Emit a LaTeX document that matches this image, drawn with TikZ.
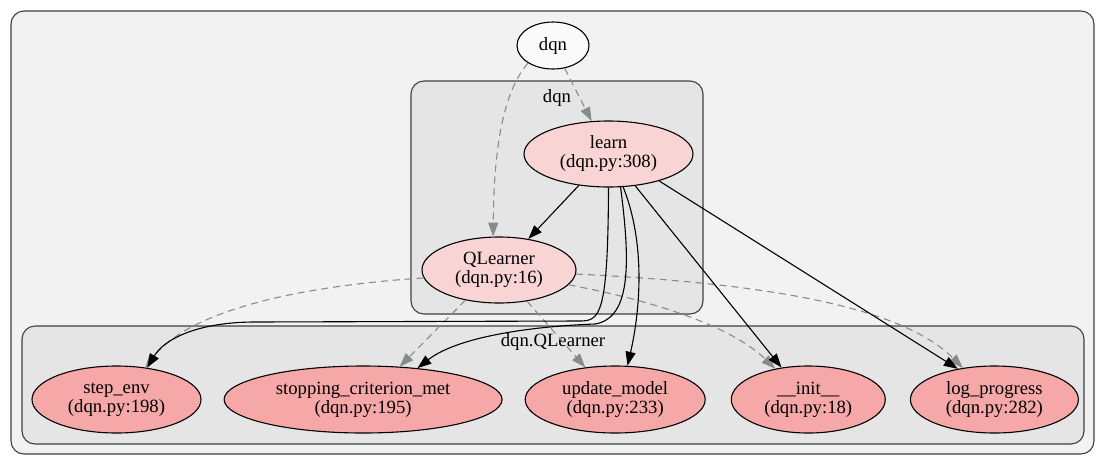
\documentclass[tikz,border=0pt]{standalone}
\usepackage{fontspec}
\setmainfont{Liberation Serif}
\usetikzlibrary{shapes.geometric, arrows.meta, positioning}
\definecolor{outerbg}{HTML}{F2F2F2}
\definecolor{clusterbg}{HTML}{E5E5E5}
\definecolor{lightpink}{HTML}{F8D4D4}
\definecolor{darkpink}{HTML}{F6A8A8}
\definecolor{edgegray}{HTML}{858C8C}
\tikzstyle{pkgbox} = [rectangle, rounded corners=13pt, draw=black!75, fill=outerbg]
\tikzstyle{clusterbox} = [rectangle, rounded corners=13pt, draw=black!75, fill=clusterbg]
\tikzstyle{module} = [ellipse, minimum width=72pt, minimum height=47pt, inner sep=0pt, draw=black, fill=black!2]
\tikzstyle{defn} = [ellipse, minimum height=66pt, inner sep=0pt, align=center, draw=black, fill=lightpink]
\tikzstyle{method} = [ellipse, minimum height=67pt, inner sep=0pt, align=center, draw=black, fill=darkpink]
\tikzstyle{arrow} = [-{Triangle[length=14pt,width=10pt]}]
\tikzstyle{uses} = [-{Triangle[length=14pt,width=10pt]}, draw=edgegray, dash pattern=on 7pt off 5pt]

\begin{document}
\begin{tikzpicture}[x=1pt, y=-1pt, node distance=22pt, line width=1.1pt, font=\fontsize{18.7pt}{19pt}\selectfont]
\useasboundingbox (0,0) rectangle (1114,467);
% call graph of dqn.py
\node (outerbox) [pkgbox, minimum width=1083pt, minimum height=443pt] at (552.5,232.5) {};
\node (dqnbox) [clusterbox, minimum width=292pt, minimum height=233pt] at (557,197.5) {};
\node (qlbox) [clusterbox, minimum width=1062pt, minimum height=118pt] at (553,385) {};

\node (dqnlabel) [below=9pt of dqnbox.north, inner sep=0pt] {dqn};
\node (qllabel) [below=8pt of qlbox.north, inner sep=0pt] {dqn.QLearner};

\node (dqn) [module] at (553,45.5) {dqn};

\node (learn) [defn, minimum width=169pt] at (608.5,154) {learn\\(dqn.py:308)};
\node (qlearner) [defn, minimum width=154pt] at (499,270) {QLearner\\(dqn.py:16)};

\node (stepenv) [method, minimum width=169pt] at (116.5,399.5) {step\_env\\(dqn.py:198)};
\node (stopping) [method, minimum width=278pt, right=of stepenv] {stopping\_criterion\_met\\(dqn.py:195)};
\node (update) [method, minimum width=180pt, right=of stopping] {update\_model\\(dqn.py:233)};
\node (init) [method, minimum width=154pt, right=25pt of update] {\_\_init\_\_\\(dqn.py:18)};
\node (logprog) [method, minimum width=168pt, right=24pt of init] {log\_progress\\(dqn.py:282)};

\draw [uses] (dqn) -- (learn);
\draw [uses] (dqn.215) .. controls (505,90) and (494,140) .. (qlearner.100);
\draw [uses] (qlearner.186) .. controls (300,286) and (190,310) .. (stepenv.48);
\draw [uses] (qlearner.222) -- (stopping.42);
\draw [uses] (qlearner.312) -- (update.133);
\draw [uses] (qlearner.348) .. controls (650,300) and (730,325) .. (init.137);
\draw [uses] (qlearner.357) .. controls (760,283) and (900,305) .. (logprog.135);

\draw [arrow] (learn) -- (qlearner);
\draw [arrow] (learn.270) .. controls (608,315) and (600,321) .. (580,321) -- (255,322) .. controls (200,322) and (165,338) .. (stepenv.46);
\draw [arrow] (learn.290) .. controls (630,260) and (632,318) .. (595,324) .. controls (540,326) and (460,335) .. (stopping.30);
\draw [arrow] (learn.294) .. controls (648,250) and (638,320) .. (update.70);
\draw [arrow] (learn.310) -- (init.130);
\draw [arrow] (learn.332) -- (logprog.140);
\end{tikzpicture}
\end{document}
